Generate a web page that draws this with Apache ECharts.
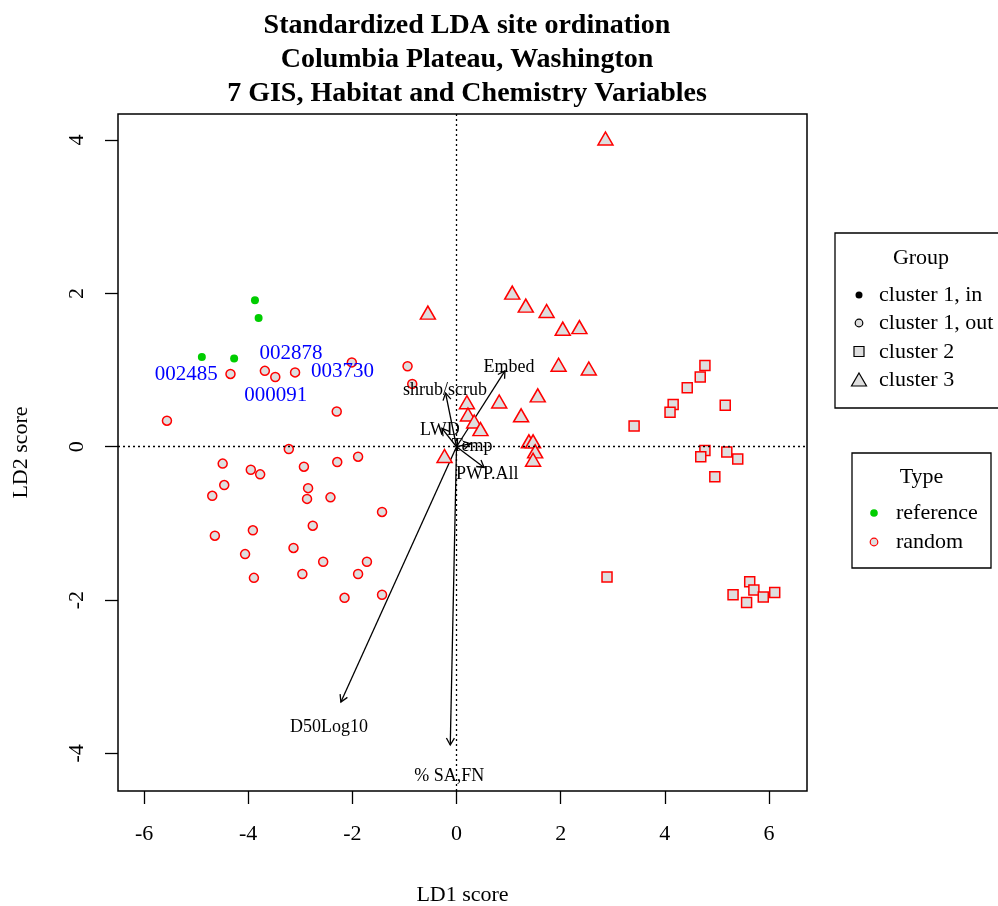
<!DOCTYPE html>
<html><head><meta charset="utf-8">
<script src="https://cdn.jsdelivr.net/npm/echarts@6/dist/echarts.min.js"></script>
<style>html,body{margin:0;padding:0;background:#fff}#c{width:998px;height:906px}</style>
</head><body><div id="c"></div>
<script>
// ---- data ----
const xTicks = [-6, -4, -2, 0, 2, 4, 6];
const yTicks = [-4, -2, 0, 2, 4];

// cluster 1, in (reference sites)
const refX = [-3.87, -3.80, -4.89, -4.27];
const refY = [1.91, 1.68, 1.17, 1.15];

// cluster 1, out (random)
const c1X = [-4.34, -3.68, -3.48, -3.10, -2.01, -0.94, -0.85, -5.56, -2.30, -3.22, -4.49, -3.95, -3.77, -2.93, -2.29, -1.89, -4.46, -4.69, -2.85, -2.87, -2.42, -1.43, -4.64, -3.91, -2.76, -4.06, -3.13, -2.56, -1.72, -3.89, -2.96, -1.89, -2.15, -1.43];
const c1Y = [0.95, 0.99, 0.91, 0.97, 1.10, 1.05, 0.82, 0.34, 0.46, -0.03, -0.22, -0.30, -0.36, -0.26, -0.20, -0.13, -0.50, -0.64, -0.54, -0.68, -0.66, -0.85, -1.16, -1.09, -1.03, -1.40, -1.32, -1.50, -1.50, -1.71, -1.66, -1.66, -1.97, -1.93];

// cluster 2 (random)
const c2X = [4.77, 4.68, 4.43, 4.16, 4.10, 5.16, 3.41, 4.77, 4.69, 5.19, 5.40, 4.96, 2.89, 5.63, 5.71, 5.31, 5.89, 6.11, 5.57];
const c2Y = [1.06, 0.91, 0.77, 0.55, 0.45, 0.54, 0.27, -0.05, -0.13, -0.07, -0.16, -0.39, -1.70, -1.76, -1.87, -1.93, -1.96, -1.90, -2.03];

// cluster 3 (random)
const c3X = [2.86, -0.55, 1.07, 1.33, 1.73, 2.04, 2.36, 1.96, 2.54, 1.56, 0.20, 0.82, 1.24, 0.22, 0.34, 0.46, -0.23, 1.39, 1.47, 1.51, 1.47];
const c3Y = [4.02, 1.75, 2.01, 1.84, 1.77, 1.54, 1.56, 1.07, 1.02, 0.67, 0.58, 0.59, 0.41, 0.42, 0.33, 0.23, -0.12, 0.07, 0.07, -0.06, -0.17];

// reference site ids
const siteIds = ['002878', '002485', '003730', '000091'];
const siteX = [-3.18, -5.19, -2.19, -3.47];
const siteY = [1.22, 0.94, 0.98, 0.67];

// variable arrows
const varNames = ['Embed', 'shrub/scrub', 'LWD', 'Temp', 'PWP.All', 'D50Log10', '% SA,FN'];
const varX = [0.93, -0.21, -0.28, 0.27, 0.53, -2.22, -0.12];
const varY = [0.99, 0.70, 0.24, 0.04, -0.27, -3.33, -3.89];
const varLabelX = [1.01, -0.22, -0.32, 0.30, 0.59, -2.45, -0.14];
const varLabelY = [1.04, 0.74, 0.22, 0.01, -0.36, -3.66, -4.30];

const titleLines = ['Standardized LDA site ordination', 'Columbia Plateau, Washington', '7 GIS, Habitat and Chemistry Variables'];

// ---- chart ----
const FONT = '"Liberation Serif", "DejaVu Serif", serif';
const GREY = '#dedede';
const pts = (xs, ys) => xs.map((x, i) => [x, ys[i]]);

const chart = echarts.init(document.getElementById('c'));

const arrowData = varX.map((x, i) => [0, 0, x, varY[i]]);

const legendTextStyle = { font: '22px ' + FONT, fill: '#000', textVerticalAlign: 'middle' };

chart.setOption({
  animation: false,
  backgroundColor: '#fff',
  title: {
    text: titleLines.join('\n'),
    left: 462, top: 4, textAlign: 'center',
    textStyle: { fontFamily: FONT, fontWeight: 'bold', fontSize: 28, lineHeight: 34, color: '#000' }
  },
  grid: { left: 118, right: 191, top: 114, bottom: 115, outerBoundsMode: 'none', containLabel: false, show: true, borderColor: '#000', borderWidth: 1.5, backgroundColor: 'transparent' },
  xAxis: {
    type: 'value', min: -6.5, max: 6.73,
    name: 'LD1 score', nameLocation: 'middle', nameGap: 93,
    nameTextStyle: { fontFamily: FONT, fontSize: 22, color: '#000' },
    axisLine: { show: false, onZero: false },
    axisTick: { show: true, inside: false, length: 13, customValues: xTicks, lineStyle: { color: '#000', width: 1.3 } },
    axisLabel: { customValues: xTicks, margin: 32, fontFamily: FONT, fontSize: 22, color: '#000' },
    splitLine: { show: false }
  },
  yAxis: {
    type: 'value', min: -4.49, max: 4.34,
    name: 'LD2 score', nameLocation: 'middle', nameGap: 86,
    nameTextStyle: { fontFamily: FONT, fontSize: 22, color: '#000' },
    axisLine: { show: false, onZero: false },
    axisTick: { show: true, inside: false, length: 13, customValues: yTicks, lineStyle: { color: '#000', width: 1.3 } },
    axisLabel: { customValues: yTicks, rotate: 90, margin: 30, fontFamily: FONT, fontSize: 22, color: '#000' },
    splitLine: { show: false }
  },
  series: [
    {
      type: 'scatter', name: 'zero', data: [], silent: true,
      markLine: {
        silent: true, symbol: ['none', 'none'], label: { show: false },
        lineStyle: { color: '#000', type: [2, 3], width: 1.3 },
        data: [{ xAxis: 0 }, { yAxis: 0 }]
      }
    },
    {
      type: 'scatter', name: 'cluster 1, out', data: pts(c1X, c1Y), symbol: 'circle', symbolSize: 9,
      itemStyle: { color: GREY, borderColor: '#ff0000', borderWidth: 1.5, opacity: 1 }
    },
    {
      type: 'scatter', name: 'cluster 2', data: pts(c2X, c2Y), symbol: 'rect', symbolSize: 10,
      itemStyle: { color: GREY, borderColor: '#ff0000', borderWidth: 1.5, opacity: 1 }
    },
    {
      type: 'scatter', name: 'cluster 3', data: pts(c3X, c3Y), symbol: 'triangle', symbolSize: [15, 13],
      itemStyle: { color: GREY, borderColor: '#ff0000', borderWidth: 1.5, opacity: 1 }
    },
    {
      type: 'scatter', name: 'cluster 1, in', data: pts(refX, refY), symbol: 'circle', symbolSize: 8,
      itemStyle: { color: '#00cd00', opacity: 1 }
    },
    {
      type: 'scatter', name: 'ids', symbolSize: 1, itemStyle: { color: 'rgba(0,0,0,0)', opacity: 1 },
      data: siteIds.map((s, i) => [siteX[i], siteY[i], s]),
      label: { show: true, position: 'inside', formatter: p => p.data[2], fontFamily: FONT, fontSize: 21, color: '#0000ff', textBorderWidth: 0, opacity: 1 }
    },
    {
      type: 'custom', name: 'arrows', data: arrowData,
      encode: { x: [0, 2], y: [1, 3] },
      renderItem: function (params, api) {
        const p0 = api.coord([api.value(0), api.value(1)]);
        const p1 = api.coord([api.value(2), api.value(3)]);
        const ang = Math.atan2(p1[1] - p0[1], p1[0] - p0[0]);
        const L = 8, a = Math.PI / 6;
        const h1 = [p1[0] - L * Math.cos(ang - a), p1[1] - L * Math.sin(ang - a)];
        const h2 = [p1[0] - L * Math.cos(ang + a), p1[1] - L * Math.sin(ang + a)];
        return {
          type: 'group', children: [
            { type: 'line', shape: { x1: p0[0], y1: p0[1], x2: p1[0], y2: p1[1] }, style: { stroke: '#000', lineWidth: 1.3 } },
            { type: 'polyline', shape: { points: [h1, p1, h2] }, style: { stroke: '#000', lineWidth: 1.3, fill: null } }
          ]
        };
      }
    },
    {
      type: 'scatter', name: 'varlabels', symbolSize: 1, itemStyle: { color: 'rgba(0,0,0,0)', opacity: 1 },
      data: varNames.map((n, i) => [varLabelX[i], varLabelY[i], n]),
      label: { show: true, position: 'inside', formatter: p => p.data[2], fontFamily: FONT, fontSize: 18, color: '#000', textBorderWidth: 0, opacity: 1 }
    }
  ],
  graphic: [
    { type: 'rect', shape: { x: 835, y: 233, width: 175, height: 175 }, style: { fill: '#fff', stroke: '#000', lineWidth: 1.3 } },
    { type: 'text', x: 921, y: 258, style: Object.assign({}, legendTextStyle, { text: 'Group', textAlign: 'center' }) },
    { type: 'circle', shape: { cx: 859, cy: 295, r: 3.5 }, style: { fill: '#000' } },
    { type: 'text', x: 879, y: 295, style: Object.assign({}, legendTextStyle, { text: 'cluster 1, in' }) },
    { type: 'circle', shape: { cx: 859, cy: 323, r: 3.8 }, style: { fill: GREY, stroke: '#000', lineWidth: 1.2 } },
    { type: 'text', x: 879, y: 323, style: Object.assign({}, legendTextStyle, { text: 'cluster 1, out' }) },
    { type: 'rect', shape: { x: 854, y: 346.5, width: 10, height: 10 }, style: { fill: GREY, stroke: '#000', lineWidth: 1.2 } },
    { type: 'text', x: 879, y: 352, style: Object.assign({}, legendTextStyle, { text: 'cluster 2' }) },
    { type: 'polygon', shape: { points: [[859, 373], [866.5, 386], [851.5, 386]] }, style: { fill: GREY, stroke: '#000', lineWidth: 1.2 } },
    { type: 'text', x: 879, y: 380, style: Object.assign({}, legendTextStyle, { text: 'cluster 3' }) },

    { type: 'rect', shape: { x: 852, y: 453, width: 139, height: 115 }, style: { fill: '#fff', stroke: '#000', lineWidth: 1.3 } },
    { type: 'text', x: 921.5, y: 477, style: Object.assign({}, legendTextStyle, { text: 'Type', textAlign: 'center' }) },
    { type: 'circle', shape: { cx: 874, cy: 513, r: 3.8 }, style: { fill: '#00cd00' } },
    { type: 'text', x: 896, y: 513, style: Object.assign({}, legendTextStyle, { text: 'reference' }) },
    { type: 'circle', shape: { cx: 874, cy: 542, r: 3.8 }, style: { fill: GREY, stroke: '#ff0000', lineWidth: 1.2 } },
    { type: 'text', x: 896, y: 542, style: Object.assign({}, legendTextStyle, { text: 'random' }) }
  ]
});
</script>
</body></html>
